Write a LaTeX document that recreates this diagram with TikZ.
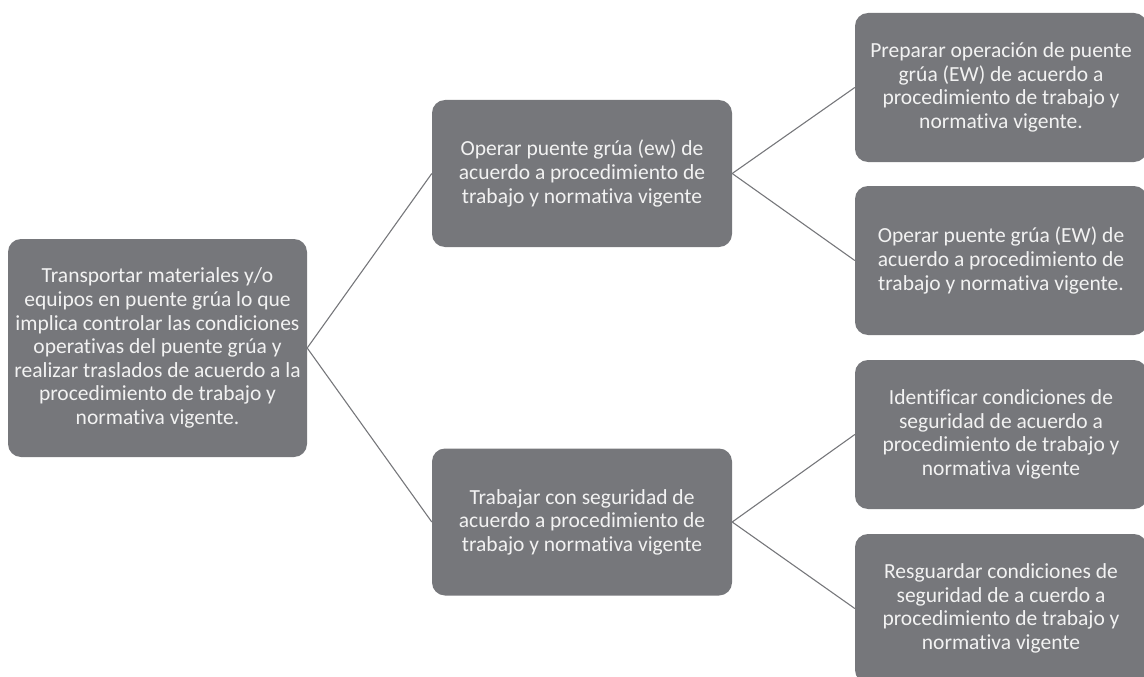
\documentclass[tikz,border=0pt]{standalone}
\usepackage{fontspec}
\setmainfont{Carlito}[Ligatures=NoCommon]
\usetikzlibrary{positioning}
\definecolor{boxgray}{RGB}{118,119,123}
\definecolor{boxtext}{RGB}{242,242,242}
\tikzset{
  box/.style={fill=boxgray, text=boxtext, rounded corners=13pt, align=center,
    inner sep=0pt, font=\fontsize{21.5}{23.6}\selectfont},
  midbox/.style={box, minimum width=300pt, minimum height=147pt},
  leafbox/.style={box, minimum width=292pt, minimum height=149pt},
  link/.style={draw=boxgray, line width=1.1pt}
}
\begin{document}
\begin{tikzpicture}[x=1pt,y=-1pt]
  \useasboundingbox (0,0) rectangle (1144,677);
  % Root
  \node[box, minimum width=299pt, minimum height=218pt] (root) at (157.5,348)
    {Transportar materiales y/o\\equipos en puente grúa lo que\\implica controlar las condiciones\\operativas del puente grúa y\\realizar traslados de acuerdo a la\\procedimiento de trabajo y\\normativa vigente.};
  % Middle
  \node[midbox] (opr) at (582,173.5)
    {Operar puente grúa (ew) de\\acuerdo a procedimiento de\\trabajo y normativa vigente};
  \node[midbox] (seg) at (582,522)
    {Trabajar con seguridad de\\acuerdo a procedimiento de\\trabajo y normativa vigente};
  % Leaves
  \node[leafbox] (prep) at (1001,87.5)
    {Preparar operación de puente\\grúa (EW) de acuerdo a\\procedimiento de trabajo y\\normativa vigente.};
  \node[leafbox] (oper) at (1001,260.5)
    {Operar puente grúa (EW) de\\acuerdo a procedimiento de\\trabajo y normativa vigente.};
  \node[leafbox] (iden) at (1001,434.5)
    {Identificar condiciones de\\seguridad de acuerdo a\\procedimiento de trabajo y\\normativa vigente};
  \node[leafbox] (resg) at (1001,608.5)
    {Resguardar condiciones de\\seguridad de a cuerdo a\\procedimiento de trabajo y\\normativa vigente};
  % Links
  \draw[link] (root.east) -- (opr.west);
  \draw[link] (root.east) -- (seg.west);
  \draw[link] (opr.east) -- (prep.west);
  \draw[link] (opr.east) -- (oper.west);
  \draw[link] (seg.east) -- (iden.west);
  \draw[link] (seg.east) -- (resg.west);
\end{tikzpicture}
\end{document}
